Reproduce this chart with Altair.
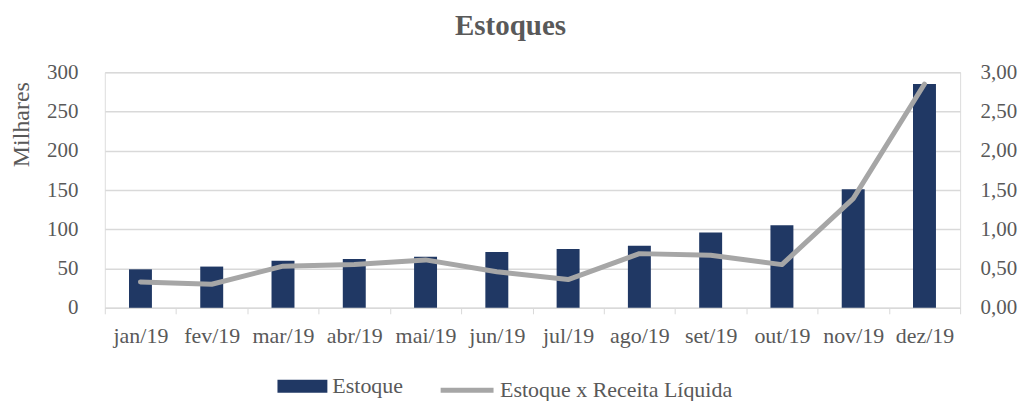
import altair as alt
import pandas as pd

meses = ["jan/19", "fev/19", "mar/19", "abr/19", "mai/19", "jun/19",
         "jul/19", "ago/19", "set/19", "out/19", "nov/19", "dez/19"]
estoque = [49, 52.5, 60, 62, 65, 71, 75, 79, 96, 105, 151, 285]
estoque_receita = [0.33, 0.30, 0.53, 0.55, 0.61, 0.46, 0.36, 0.69, 0.67, 0.55, 1.39, 2.85]

df = pd.DataFrame({"mes": meses, "estoque": estoque, "ratio": estoque_receita})

FONT = "Liberation Serif"
TXT = "#595959"
GRID = "#d9d9d9"
NAVY = "#203864"
GRAY = "#a6a6a6"

x = alt.X("mes:N", sort=meses, title=None,
          scale=alt.Scale(paddingInner=0, paddingOuter=0),
          axis=alt.Axis(labelAngle=0, tickBand="extent", domainColor=GRID,
                        tickColor=GRID, tickSize=6, labelPadding=12,
                        labelFont=FONT, labelFontSize=22, labelColor=TXT))

bars = alt.Chart(df).transform_calculate(s="'Estoque'").mark_bar(size=23).encode(
    x=x,
    y=alt.Y("estoque:Q", scale=alt.Scale(domain=[0, 300]),
            axis=alt.Axis(values=[0, 50, 100, 150, 200, 250, 300], title="Milhares",
                          domain=False, ticks=False, gridColor=GRID, gridWidth=1.5,
                          labelPadding=27, labelFont=FONT, labelFontSize=21, labelColor=TXT,
                          titleFont=FONT, titleFontSize=24, titleColor=TXT,
                          titleFontWeight="normal", titleX=-83, titleY=52,
                          titleBaseline="middle", titleAlign="center", titleAngle=-90)),
    color=alt.Color("s:N", scale=alt.Scale(range=[NAVY]),
                    legend=alt.Legend(title=None, orient="none", legendX=173, legendY=289.5,
                                      symbolType="M-1,-0.26H1V0.26H-1Z", symbolSize=2500,
                                      symbolStrokeWidth=0, labelOffset=5, padding=0,
                                      labelLimit=400,
                                      labelFont=FONT, labelFontSize=22, labelColor=TXT)),
)

line = alt.Chart(df).transform_calculate(t="'Estoque x Receita Líquida'").mark_line(
    strokeWidth=5, strokeCap="round", strokeJoin="round").encode(
    x=x,
    y=alt.Y("ratio:Q", scale=alt.Scale(domain=[0, 3]),
            axis=alt.Axis(orient="right", values=[0, 0.5, 1, 1.5, 2, 2.5, 3], title=None,
                          domain=False, ticks=False, grid=False,
                          labelExpr="replace(format(datum.value, '.2f'), '.', ',')",
                          labelPadding=20, labelFont=FONT, labelFontSize=21, labelColor=TXT)),
    color=alt.Color("t:N", scale=alt.Scale(range=[GRAY]),
                    legend=alt.Legend(title=None, orient="none", legendX=334, legendY=289.5,
                                      symbolType="stroke", symbolSize=2809,
                                      symbolStrokeWidth=5, labelOffset=4, padding=0,
                                      labelLimit=400,
                                      labelFont=FONT, labelFontSize=22, labelColor=TXT)),
)

chart = alt.layer(bars, line).resolve_scale(y="independent", color="independent").properties(
    width=857, height=236,
    title=alt.Title("Estoques", font=FONT, fontSize=29, fontWeight="bold", color=TXT,
                    anchor="middle", dx=-22, offset=20),
    autosize=alt.AutoSizeParams(type="none"),
    padding={"left": 97, "top": 64, "right": 60, "bottom": 93},
).configure_view(stroke=None).configure(background="white")

chart.save("out.html", embed_options={"renderer": "svg", "actions": False})
